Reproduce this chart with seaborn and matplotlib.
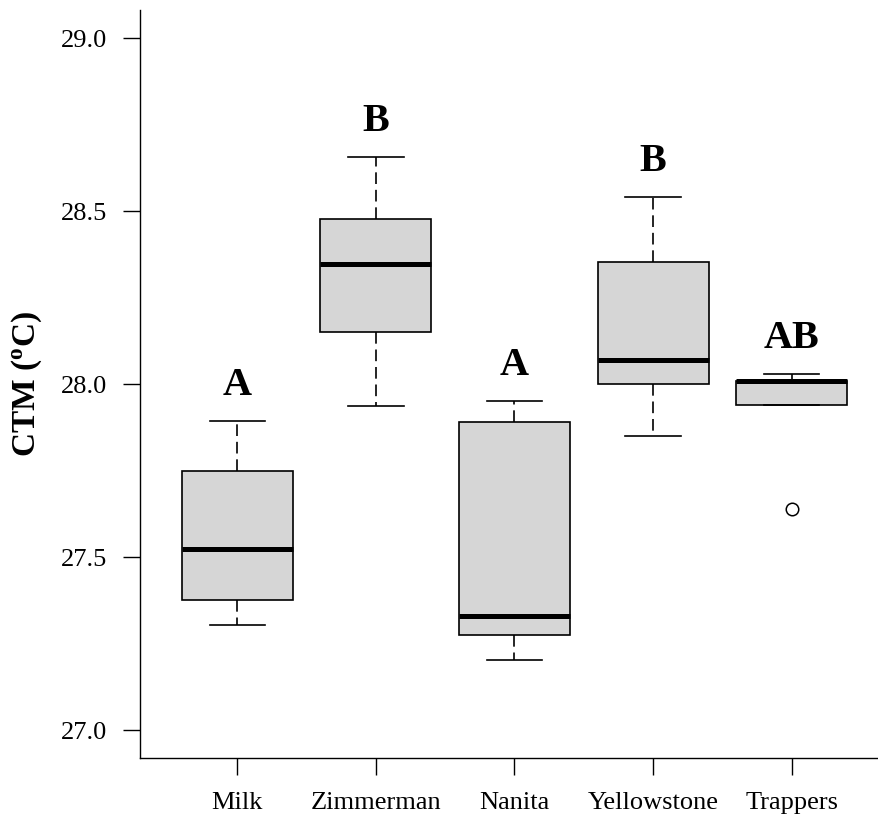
import matplotlib
matplotlib.use("Agg")
import matplotlib.pyplot as plt
import seaborn as sns
import pandas as pd

# ---- data (five-number readings per site) ----
sites = ["Milk", "Zimmerman", "Nanita", "Yellowstone", "Trappers"]
milk = [27.303, 27.376, 27.523, 27.749, 27.894]
zimmerman = [27.936, 28.150, 28.346, 28.476, 28.655]
nanita = [27.202, 27.275, 27.329, 27.890, 27.950]
yellowstone = [27.850, 28.000, 28.069, 28.353, 28.541]
trappers = [27.639, 27.939, 28.010, 28.010, 28.030]
letters = ["A", "B", "A", "B", "AB"]
yticks = [27.0, 27.5, 28.0, 28.5, 29.0]

values = [milk, zimmerman, nanita, yellowstone, trappers]
df = pd.DataFrame({
    "site": [s for s, v in zip(sites, values) for _ in v],
    "ctm": [x for v in values for x in v],
})

plt.rcParams["font.family"] = ["Liberation Serif", "DejaVu Serif"]
plt.rcParams["mathtext.fontset"] = "custom"
plt.rcParams["mathtext.rm"] = "Liberation Serif:bold"
plt.rcParams["mathtext.bf"] = "Liberation Serif:bold"

W, H = 879, 824
fig = plt.figure(figsize=(W / 100, H / 100), dpi=100)
left, right, top, bottom = 140, 879, 10, 757.7
ax = fig.add_axes([left / W, 1 - bottom / H, (right - left) / W, (bottom - top) / H])

sns.boxplot(
    data=df, x="site", y="ctm", order=sites, ax=ax,
    color="#d6d6d6", saturation=1, width=0.8, whis=1.5,
    linecolor="black", linewidth=1.2,
    boxprops=dict(edgecolor="black", linewidth=1.2),
    medianprops=dict(color="black", linewidth=3.6, solid_capstyle="butt"),
    whiskerprops=dict(color="black", linewidth=1.2, linestyle=(0, (7, 3.5))),
    capprops=dict(color="black", linewidth=1.2),
    flierprops=dict(marker="o", markersize=9, markerfacecolor="none",
                    markeredgecolor="black", markeredgewidth=1.1),
)

for i, (v, lab) in enumerate(zip(values, letters)):
    ax.text(i, max(v) + 0.075, lab, ha="center", va="baseline",
            fontsize=29, fontweight="bold")

ax.set_xlim(-0.702, 4.63)
ax.set_ylim(26.92, 29.081)
ax.set_yticks(yticks)
ax.set_yticklabels([f"{t:.1f}" for t in yticks])
ax.set_xlabel("")
ax.set_ylabel(r"CTM ($\mathrm{^{o}}$C)", fontsize=24, fontweight="bold")
ax.yaxis.set_label_coords(-0.13, 0.5)

for s in ["top", "right"]:
    ax.spines[s].set_visible(False)
for s in ["left", "bottom"]:
    ax.spines[s].set_linewidth(1.0)
    ax.spines[s].set_color("black")
ax.tick_params(axis="both", direction="out", length=12, width=1.0,
               labelsize=19, colors="black")
ax.tick_params(axis="y", pad=12)
ax.tick_params(axis="x", pad=13)

fig.savefig("out.png", dpi=100)
